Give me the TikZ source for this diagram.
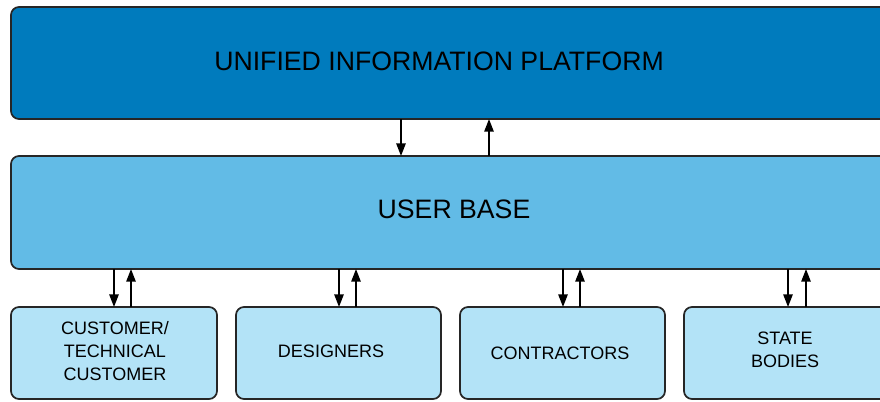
\documentclass[tikz,border=0pt]{standalone}
\usepackage{fontspec}
\setmainfont{Liberation Sans}
\usetikzlibrary{arrows.meta}
\definecolor{platformblue}{HTML}{007BBD}
\definecolor{userblue}{HTML}{62BBE6}
\definecolor{groupblue}{HTML}{B3E3F7}
\tikzset{
  box/.style={draw=black!85, line width=1.3pt, rounded corners=6pt, inner sep=0pt},
  flow/.style={line width=1.3pt, -{Triangle[length=9.5pt,width=7pt]}},
  bigtext/.style={font=\fontsize{20}{24}\selectfont, text=black},
  smalltext/.style={font=\fontsize{13.5}{17.2}\selectfont, align=center, text=black},
}
\begin{document}
\begin{tikzpicture}[x=0.75pt, y=-0.75pt]
\useasboundingbox (0,0) rectangle (880,401);
\clip (0,0) rectangle (880,401);

% boxes (the row continues past the right edge)
\draw[box, fill=platformblue] (11,7) rectangle (905,119);
\draw[box, fill=userblue] (11,156) rectangle (905,269);
\draw[box, fill=groupblue] (11,307) rectangle (217,399);
\draw[box, fill=groupblue] (236,307) rectangle (441,399);
\draw[box, fill=groupblue] (460,307) rectangle (665,399);
\draw[box, fill=groupblue] (684,307) rectangle (905,399);

% anchor points on the box edges
\coordinate (pB) at (0,119);
\coordinate (uT) at (0,156);
\coordinate (uB) at (0,269);
\coordinate (gT) at (0,307);

% labels
\node[bigtext] (platform) at (439,61) {UNIFIED INFORMATION PLATFORM};
\node[bigtext] (users) at (454,209) {USER BASE};
\node[smalltext] (customer) at (115,351) {CUSTOMER/\\TECHNICAL\\CUSTOMER};
\node[smalltext] (designers) at (331,351) {DESIGNERS};
\node[smalltext] (contractors) at (560,353) {CONTRACTORS};
\node[smalltext] (state) at (785,350) {STATE\\BODIES};

% platform <-> user base
\draw[flow] (pB -| 401,0) -- (uT -| 401,0);
\draw[flow] (uT -| 489,0) -- (pB -| 489,0);

% user base <-> groups
\foreach \d/\u in {114/131, 339/356, 563/580, 788/806}{
  \draw[flow] (uB -| \d,0) -- (gT -| \d,0);
  \draw[flow] (gT -| \u,0) -- (uB -| \u,0);
}
\end{tikzpicture}
\end{document}
